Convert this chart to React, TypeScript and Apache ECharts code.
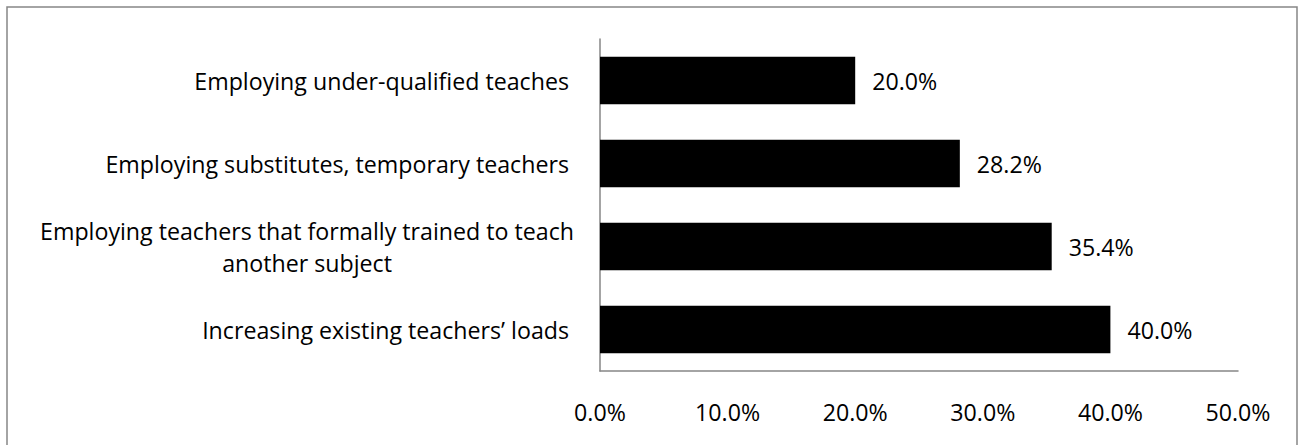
import React, { useEffect, useRef } from "react";
import * as echarts from "echarts";

const categories = [
  "Increasing existing teachers’ loads",
  "Employing teachers that formally trained to teach\nanother subject",
  "Employing substitutes, temporary teachers",
  "Employing under-qualified teaches",
];
const values = [40.0, 35.4, 28.2, 20.0];
const xTicks = [0, 10, 20, 30, 40, 50];

const FONT = "Open Sans";
const FS = 23.2;

export default function App() {
  const ref = useRef<HTMLDivElement>(null);
  useEffect(() => {
    const chart = echarts.init(ref.current!, null, { renderer: "svg" });
    chart.setOption({
      animation: false,
      backgroundColor: "#ffffff",
      graphic: [
        {
          type: "rect",
          shape: { x: 7, y: 7, width: 1290, height: 460 },
          style: { fill: "none", stroke: "#868686", lineWidth: 1.5 },
          silent: true,
        },
      ],
      grid: { left: 600, right: 62, top: 39, bottom: 74, containLabel: false },
      xAxis: {
        type: "value",
        min: xTicks[0],
        max: xTicks[xTicks.length - 1],
        interval: 10,
        axisLine: { show: true, lineStyle: { color: "#868686", width: 1.5 } },
        axisTick: { show: false },
        splitLine: { show: false },
        axisLabel: {
          margin: 29,
          color: "#000",
          fontFamily: FONT,
          fontSize: FS,
          formatter: (v: number) => v.toFixed(1) + "%",
        },
      },
      yAxis: {
        type: "category",
        data: categories,
        axisLine: { show: true, lineStyle: { color: "#868686", width: 1.5 } },
        axisTick: { show: false },
        axisLabel: {
          margin: 26,
          color: "#000",
          fontFamily: FONT,
          fontSize: FS,
          lineHeight: 32,
          formatter: (v: string) =>
            v.indexOf("\n") >= 0 ? "{c|" + v.split("\n").join("}\n{c|") + "}" : "{s|" + v + "}",
          rich: {
            c: { align: "center", fontFamily: FONT, fontSize: FS, lineHeight: 32, color: "#000" },
            s: { fontFamily: FONT, fontSize: FS, lineHeight: 32, color: "#000", padding: [0, 5, 0, 0] },
          },
        },
      },
      series: [
        {
          type: "bar",
          data: values,
          barWidth: "57%",
          itemStyle: { color: "#000000" },
          label: {
            show: true,
            position: "right",
            distance: 17,
            color: "#000",
            fontFamily: FONT,
            fontSize: FS,
            formatter: (p: any) => p.value.toFixed(1) + "%",
          },
        },
      ],
    });
    return () => chart.dispose();
  }, []);
  return (
    <div
      ref={ref}
      style={{ position: "fixed", left: 0, top: 0, width: 1300, height: 445 }}
    />
  );
}
